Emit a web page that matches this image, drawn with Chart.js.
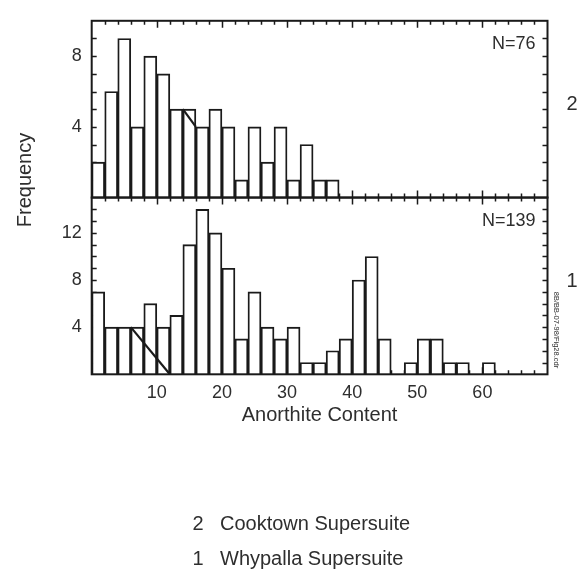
<!DOCTYPE html>
<html>
<head>
<meta charset="utf-8">
<script src="https://cdn.jsdelivr.net/npm/chart.js@4/dist/chart.umd.min.js"></script>
<style>
  html, body { margin: 0; padding: 0; background: #fff; }
  #wrap { position: relative; width: 583px; height: 572px; }
</style>
</head>
<body>
<div id="wrap"><canvas id="c" width="583" height="572"></canvas></div>
<script>
// Anorthite content histograms, 2-unit bins (lower bin edges) and counts per bin
const BIN_WIDTH = 2;

const cooktownBins   = [0, 2, 4, 6, 8, 10, 12, 14, 16, 18, 20, 22, 24, 26, 28, 30, 32, 34, 36];
const cooktownCounts = [2, 6, 9, 4, 8, 7, 5, 5, 4, 5, 4, 1, 4, 2, 4, 1, 3, 1, 1];

const whypallaBins   = [0, 2, 4, 6, 8, 10, 12, 14, 16, 18, 20, 22, 24, 26, 28, 30,
                        32, 34, 36, 38, 40, 42, 44, 46, 48, 50, 52, 54, 56, 58, 60, 62];
const whypallaCounts = [7, 4, 4, 4, 6, 4, 5, 11, 14, 12, 9, 3, 7, 4, 3, 4,
                        1, 1, 2, 3, 8, 10, 3, 0, 1, 3, 3, 1, 1, 0, 1, 0];

// Stray strokes drawn across the bars
const cooktownStrokeX = [14, 16];
const cooktownStrokeY = [5, 4];
const whypallaStrokeX = [6, 12];
const whypallaStrokeY = [4, 0];

// Axis ticks and labels
const xTickValues     = [10, 20, 30, 40, 50, 60];
const cooktownYTicks  = [4, 8];
const whypallaYTicks  = [4, 8, 12];
const panelSampleSize = ['N=76', 'N=139'];
const panelNumbers    = ['2', '1'];
const suiteNames      = ['Cooktown Supersuite', 'Whypalla Supersuite'];

const INK = '#1a1a1a';
const TEXT = '#2e2e2e';
const FONT = '"Liberation Sans", Arial, sans-serif';

const toPoints = (bins, counts) => bins.map((b, i) => ({ x: b + BIN_WIDTH / 2, y: counts[i] }));
const toLine = (xs, ys) => xs.map((x, i) => ({ x: x, y: ys[i] }));

const barStyle = {
  type: 'bar',
  xAxisID: 'x',
  order: 2,
  backgroundColor: '#ffffff',
  borderColor: INK,
  borderWidth: 1.9,
  borderSkipped: 'start',
  barPercentage: 1,
  categoryPercentage: 1,
  grouped: false
};
const strokeStyle = {
  type: 'line',
  xAxisID: 'x',
  order: 1,
  borderColor: INK,
  borderWidth: 2.2,
  pointRadius: 0,
  fill: false,
  tension: 0
};

// Frame, inward ticks and annotation text for the two stacked panels
const panelFrame = {
  id: 'panelFrame',
  beforeDatasetsDraw(chart) {
    const ctx = chart.ctx;
    const xs = chart.scales.x;
    ctx.save();
    ctx.strokeStyle = INK;
    ctx.lineWidth = 1.5;
    ['yTop', 'yBot'].forEach(id => {
      const ys = chart.scales[id];
      const L = xs.left, R = xs.right, T = ys.top, B = ys.bottom;
      ctx.beginPath();
      for (let v = ys.min + 1; v < ys.max; v++) {
        const py = Math.round(ys.getPixelForValue(v)) + 0.5;
        ctx.moveTo(L, py); ctx.lineTo(L + 5, py);
        ctx.moveTo(R, py); ctx.lineTo(R - 5, py);
      }
      for (let v = xs.min + BIN_WIDTH; v < xs.max; v += BIN_WIDTH) {
        const px = Math.round(xs.getPixelForValue(v)) + 0.5;
        const len = v % 10 === 0 ? 7 : 4;
        ctx.moveTo(px, T); ctx.lineTo(px, T + len);
        ctx.moveTo(px, B); ctx.lineTo(px, B - len);
      }
      ctx.stroke();
    });
    ctx.restore();
  },
  afterDatasetsDraw(chart) {
    const ctx = chart.ctx;
    const xs = chart.scales.x;
    const panels = [chart.scales.yTop, chart.scales.yBot];
    ctx.save();
    ctx.strokeStyle = INK;
    ctx.lineWidth = 2;
    panels.forEach(ys => {
      ctx.strokeRect(xs.left, ys.top, xs.right - xs.left, ys.bottom - ys.top);
    });

    ctx.fillStyle = TEXT;
    ctx.textBaseline = 'alphabetic';
    // sample sizes
    ctx.font = '18px ' + FONT;
    ctx.textAlign = 'right';
    panels.forEach((ys, i) => ctx.fillText(panelSampleSize[i], xs.right - 12, ys.top + 28));
    // panel numbers on the right
    ctx.font = '20px ' + FONT;
    ctx.textAlign = 'center';
    panels.forEach((ys, i) => ctx.fillText(panelNumbers[i], 572, (ys.top + ys.bottom) / 2 + 1));

    // file reference, rotated
    ctx.save();
    ctx.font = '7.5px ' + FONT;
    ctx.translate(556, 330);
    ctx.rotate(Math.PI / 2);
    ctx.textAlign = 'center';
    ctx.textBaseline = 'middle';
    ctx.fillText('8B/BB-07-98/Fig28.cdr', 0, 0);
    ctx.restore();

    // y-axis title
    ctx.save();
    ctx.font = '20px ' + FONT;
    ctx.translate(31, 180);
    ctx.rotate(-Math.PI / 2);
    ctx.textAlign = 'center';
    ctx.textBaseline = 'alphabetic';
    ctx.fillText('Frequency', 0, 0);
    ctx.restore();

    // x-axis title
    ctx.font = '20px ' + FONT;
    ctx.textAlign = 'center';
    ctx.fillText('Anorthite Content', (xs.left + xs.right) / 2, 421);

    // suite key
    ctx.font = '20px ' + FONT;
    suiteNames.forEach((name, i) => {
      const base = 530 + i * 35;
      ctx.textAlign = 'center';
      ctx.fillText(panelNumbers[i], 198, base);
      ctx.textAlign = 'left';
      ctx.fillText(name, 220, base);
    });
    ctx.restore();
  }
};

const yAxis = (max, tickValues) => ({
  type: 'linear',
  position: 'left',
  stack: 'panels',
  stackWeight: 1,
  min: 0,
  max: max,
  grid: { display: false, drawTicks: false },
  border: { display: false },
  ticks: { font: { family: FONT, size: 18 }, color: TEXT, padding: 10 },
  afterBuildTicks: s => { s.ticks = tickValues.map(v => ({ value: v })); },
  afterFit: s => { s.width = 91.7; }
});

new Chart(document.getElementById('c'), {
  data: {
    datasets: [
      Object.assign({ label: suiteNames[0], yAxisID: 'yTop', data: toPoints(cooktownBins, cooktownCounts) }, barStyle),
      Object.assign({ label: suiteNames[1], yAxisID: 'yBot', data: toPoints(whypallaBins, whypallaCounts) }, barStyle),
      Object.assign({ yAxisID: 'yTop', data: toLine(cooktownStrokeX, cooktownStrokeY) }, strokeStyle),
      Object.assign({ yAxisID: 'yBot', data: toLine(whypallaStrokeX, whypallaStrokeY) }, strokeStyle)
    ]
  },
  options: {
    responsive: false,
    animation: false,
    devicePixelRatio: 1,
    layout: { padding: { top: 10, right: 35.5, left: 0, bottom: 137.7 } },
    plugins: { legend: { display: false }, tooltip: { enabled: false } },
    scales: {
      x: {
        type: 'linear',
        position: 'bottom',
        min: 0,
        max: 70,
        offset: false,
        grid: { display: false, drawTicks: false },
        border: { display: false },
        ticks: { font: { family: FONT, size: 18 }, color: TEXT, padding: 8, maxRotation: 0, autoSkip: false },
        afterBuildTicks: s => { s.ticks = xTickValues.map(v => ({ value: v })); },
        afterFit: s => { s.height = 60; }
      },
      // the stack places the later-listed scale at the top
      yBot: yAxis(15, whypallaYTicks),
      yTop: yAxis(10, cooktownYTicks)
    }
  },
  plugins: [panelFrame]
});
</script>
</body>
</html>
